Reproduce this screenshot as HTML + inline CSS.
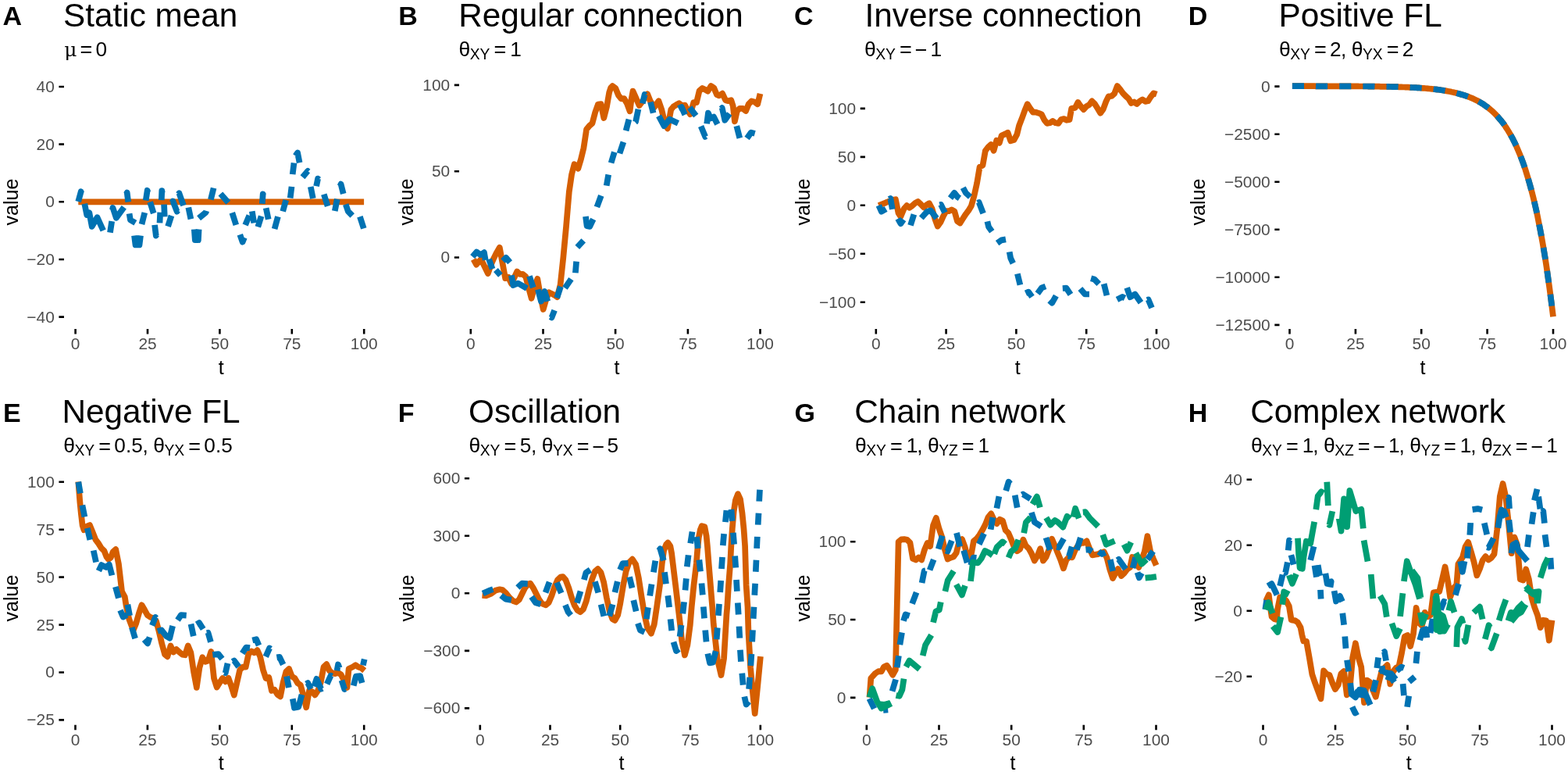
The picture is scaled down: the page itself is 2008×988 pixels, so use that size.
<!DOCTYPE html>
<html lang="en"><head><meta charset="utf-8"><title>Simulated network dynamics: panels A–H</title>
<style>
html,body{margin:0;padding:0;background:#fff;}
body{width:2008px;height:988px;overflow:hidden;}
svg{display:block;font-family:"Liberation Sans",sans-serif;}
.lab{font-weight:700;font-size:34px;fill:#000;}
.ttl{font-size:42.3px;fill:#000;}
.sub{font-size:26.2px;fill:#000;}
.sub .g{font-size:26.5px;}
.sub .u{font-family:"DejaVu Serif","Liberation Serif",serif;font-size:25px;}
.sub .s{font-size:19.3px;}
.sub .e{font-size:27px;}
.tk{font-size:20.9px;fill:#4d4d4d;}
.ax{font-size:25px;fill:#000;}
.ticks{stroke:#000;stroke-width:2.6;fill:none;}
.ln{fill:none;stroke-width:7.7;stroke-linejoin:round;stroke-linecap:butt;}
</style></head><body>
<svg width="2008" height="988" viewBox="0 0 2008 988" role="img" aria-label="Eight panels (A to H) of simulated time series for different network connection settings">
<rect width="2008" height="988" fill="#fff"/>
<g id="panel-A">
<path class="ln" stroke="#D55E00" d="M100.3 258.3 L466.1 258.3"/>
<path class="ln" stroke="#0072B2" d="M100.2 258.1 L103.7 245.3 L104.2 247 M108.3 260.7 L111.2 275 L114.4 272.4 L117.7 289.9 L124.5 278.2 L132.2 295 M141 297.6 L143.2 283.1 M143.9 268.5 L144.5 265.9 L148.8 278.9 L158.8 265.3 M161.7 248.4 L162.7 246.5 L164.2 258.5 M165.6 273.4 L166.9 281.5 L173.4 285.3 M172 301.5 L173.5 313.5 L178.5 313.5 L180 301.5 M181.5 287 L185.3 272.1 M186.7 256.7 L188.7 243.7 L189.3 246 M192.2 258.5 L196.7 273 M198.1 287.9 L199.8 301.6 L200.6 300.3 M204.5 285.4 L205.2 271.7 M206.8 256.1 L207.3 244 L207.8 247 M210.1 261.7 L210.8 277.3 M215.1 289.7 L219.5 276 M220.5 259.2 L221.4 257.4 L226.6 270.7 L227.5 269.2 M228.4 248.6 L229.4 247.2 L235 263 M241.3 265.5 L244.4 280.4 M248.8 293.5 L249.8 307.2 L253.9 307.2 L254.6 293.5 M254.6 279.2 L263.7 271.7 L264.3 269.8 M269.9 255.5 L273.6 240.6 M282.4 248 L292.3 259.2 M297.3 272.3 L302.3 287.9 M307.3 300.3 L310.6 309.7 L312.9 304 M314.1 287.9 L319.3 275.7 M322.8 270.4 L325.3 285.4 M330.3 290.4 L334.6 276.7 M335.8 260.8 L336.7 248.3 L337.2 249.8 M340.7 266.2 L343.7 280.8 M351.6 293 L355.9 277.2 M362.2 270.5 L366.2 255.9 M371.7 253.5 L373.5 238.9 M374.7 223.1 L376.5 208.5 M378.3 199.4 L381.1 195.5 L383.6 208.2 M387.5 226.8 L394.1 218.9 L394.7 219.5 M405.1 238.3 L407.1 228.6 L408.3 229.8 M397.8 238.9 L400.8 254.1 M414.8 248.6 L419.6 263.8 M428.8 269.9 L431.8 254.7 M435.4 238.1 L436.6 235.6 L439.7 248 M442.7 261.4 L445.8 270.5 L451.2 276 M460.9 277.2 L465.8 292.4"/>
<path class="ticks" d="M75.4 111 H82 M75.4 184.6 H82 M75.4 258.3 H82 M75.4 332 H82 M75.4 405.6 H82 M96.6 421 V427.5 M189 421 V427.5 M281.4 421 V427.5 M373.8 421 V427.5 M466.2 421 V427.5"/>
<text class="tk" text-anchor="end" x="69.8" y="117.9">40</text>
<text class="tk" text-anchor="end" x="69.8" y="191.5">20</text>
<text class="tk" text-anchor="end" x="69.8" y="265.2">0</text>
<text class="tk" text-anchor="end" x="69.8" y="338.9">−20</text>
<text class="tk" text-anchor="end" x="69.8" y="412.5">−40</text>
<text class="tk" text-anchor="middle" x="96.6" y="447.1">0</text>
<text class="tk" text-anchor="middle" x="189" y="447.1">25</text>
<text class="tk" text-anchor="middle" x="281.4" y="447.1">50</text>
<text class="tk" text-anchor="middle" x="373.8" y="447.1">75</text>
<text class="tk" text-anchor="middle" x="466.2" y="447.1">100</text>
<text class="ax" text-anchor="middle" x="283.2" y="478.6">t</text>
<text class="ax" text-anchor="middle" transform="translate(23.4 258.6) rotate(-90)">value</text>
<text class="lab" x="3.5" y="32.4">A</text>
<text class="ttl" x="81" y="34.2">Static mean</text>
<text class="sub"><tspan class="u" x="82.25" y="71.5">μ </tspan><tspan class="e" x="102.45" y="72.9">= </tspan><tspan x="122.55" y="71.5">0</tspan></text>
</g>
<g id="panel-B">
<path class="ln" stroke="#D55E00" d="M606.4 331.8 L610.1 338.6 L616 331.8 L624.9 350 L628.7 338.9 L632.4 330.4 L636.1 323.1 L639.8 316.8 L647.1 356.1 L650.9 354.6 L654.9 363.1 L662.2 347.5 L665.8 350.8 L669.5 350.8 L673.2 354 L676.9 368 L680.6 381.7 L684.3 368 L688.3 356.8 L691.9 377.7 L695.7 395.9 L699.2 383.8 L702.9 374.2 L706.5 375.9 L710.1 377.7 L713.5 380.1 L717.6 364.4 L721.3 329.9 L725.1 289.3 L728.8 245.6 L732.1 223.1 L735.5 210.1 L740.4 215.6 L744 203.7 L747.4 189.7 L751.1 165.4 L754.8 161 L758.5 157.8 L762.2 143.8 L765.9 133.5 L769.6 133.2 L773.3 151 L777 136.6 L780.2 118.2 L782.2 112.2 L784.4 110.1 L788.2 112.8 L791.9 121.8 L795.5 126.4 L799.3 126.2 L803 132.6 L806.6 142.3 L808.6 127 L810.5 116.6 L814.1 124.6 L818.6 135 L823 129.4 L829.2 120.4 L832.6 129 L837.8 137.4 L843.5 129.2 L847.4 140.6 L851.2 156.6 L854.9 164.4 L857.3 151 L859.3 140.2 L862.3 136.6 L866 134.2 L869.7 132.2 L873.4 135 L877.2 134.6 L880.8 141.8 L883.9 146.2 L888.3 131.2 L892 131.2 L895.6 116.2 L899.4 113 L903.1 114.8 L906.4 116.8 L910.5 110 L914.2 112.4 L918 121.2 L920.9 122.4 L925.1 119.6 L929.1 128.2 L932.7 129.2 L936.3 128.2 L938.7 135.6 L940.9 155.4 L943.9 142 L947.3 138.8 L951.3 138.9 L955.1 142 L958.7 133.2 L962.4 129.4 L966.2 130.4 L970.2 133.3 L973.5 119.8"/>
<path class="ln" stroke="#0072B2" d="M605.1 328.5 L610.3 322.5 L615.4 326.1 L620 323.1 L621.7 332.8 M626.1 331.8 L630.6 344.3 M634.9 345.5 L640.9 352.2 M644 334 L648 329.8 L653.1 335.8 M654.9 352.2 L657.3 365 L663.4 362.5 L674.9 369.2 M678 353.4 L682.8 368 M688.9 370.4 L692.9 385.6 L697.4 372.9 L701.4 385.6 M704.7 405.4 L706.5 406.4 L710.1 397.1 M713.2 381.4 L718 366.8 M723.5 368.6 L731.4 357.1 M736.9 349.2 L738.1 334.6 M739.3 316.4 L747.2 307.9 M750 277.1 L751.6 289.3 L755.3 289.9 L759.7 280.5 M764.4 265 L769.8 250.4 M776.7 237.7 L779.2 223.5 M782.6 208.5 L786.8 194.6 M793.5 196.4 L798.4 181.8 M801.6 167.2 L805.4 152.7 M813.4 156.4 L814.1 155.8 L817.4 139.8 M822.8 132.4 L825.6 121 L826.3 121.8 M833 130.6 L836.6 144.6 M843.6 148.4 L850.4 161.2 L857.6 152.8 L868.4 157.8 M868.9 138.9 L872.8 137 L877.2 146.8 M883.2 137.6 L891.3 148.2 M897.6 161.6 L903.2 174.9 L903.8 174.4 M905.2 158.4 L906.9 144.6 L910 151.6 L914 149.6 L918.8 158.9 M923.6 139.2 L924.7 138 L928.3 153.8 L934.2 145.6 M943.3 161.2 L947.3 176.8 M956.6 177 L961.9 169.6 L966.7 170.9"/>
<path class="ticks" d="M581.8 108.9 H588 M581.8 219.2 H588 M581.8 329.5 H588 M602.8 421 V427.5 M695.5 421 V427.5 M788.1 421 V427.5 M880.9 421 V427.5 M973.5 421 V427.5"/>
<text class="tk" text-anchor="end" x="576.2" y="115.8">100</text>
<text class="tk" text-anchor="end" x="576.2" y="226.1">50</text>
<text class="tk" text-anchor="end" x="576.2" y="336.4">0</text>
<text class="tk" text-anchor="middle" x="602.8" y="447.1">0</text>
<text class="tk" text-anchor="middle" x="695.5" y="447.1">25</text>
<text class="tk" text-anchor="middle" x="788.1" y="447.1">50</text>
<text class="tk" text-anchor="middle" x="880.9" y="447.1">75</text>
<text class="tk" text-anchor="middle" x="973.5" y="447.1">100</text>
<text class="ax" text-anchor="middle" x="790" y="478.6">t</text>
<text class="ax" text-anchor="middle" transform="translate(528.8 258.6) rotate(-90)">value</text>
<text class="lab" x="510.25" y="32.4">B</text>
<text class="ttl" x="587.25" y="34.2">Regular connection</text>
<text class="sub"><tspan class="g" x="587.5" y="71.5">θ</tspan><tspan class="s" x="601.75" y="75.8">XY </tspan><tspan class="e" x="632.55" y="72.9">= </tspan><tspan x="653.25" y="71.5">1</tspan></text>
</g>
<g id="panel-C">
<path class="ln" stroke="#D55E00" d="M1125.3 263 L1128.9 261.5 L1132.5 260.2 L1136.1 258.6 L1143.3 255.9 L1146.9 255.2 L1150.5 272.6 L1153.4 277.2 L1157.7 267 L1161.3 263.1 L1164.9 265.8 L1168.4 263.1 L1172 259.9 L1175.6 258 L1179.2 261.4 L1183 265.5 L1186.4 262.3 L1190 260.2 L1193.6 267 L1197.2 279.8 L1200.8 289.6 L1204.4 284.6 L1208 276.6 L1211.6 270.2 L1215.1 270.2 L1218.7 268.4 L1222.3 270.3 L1225.9 283 L1229.5 285.5 L1233.1 279.8 L1236.7 274.2 L1240.3 269.4 L1243.9 263.4 L1247.5 250.6 L1251.1 234.4 L1254.6 213.7 L1258.5 211.6 L1261.9 192.8 L1265.4 188.4 L1269 185 L1272.6 192.8 L1276.2 179.7 L1279.9 182.8 L1282.6 173.5 L1287 171.6 L1290.6 169.7 L1294.2 180.3 L1298.5 179.1 L1302.3 172.2 L1305 161 L1308.6 151.7 L1312.2 141.7 L1315.7 133.2 L1319.3 138.8 L1322.9 143.6 L1326.5 143.6 L1330.2 144.8 L1333.8 146.3 L1337.4 153.5 L1340.9 157.9 L1344.5 157.3 L1348.1 154.8 L1351.7 157.3 L1355.3 157.9 L1358.9 152.9 L1362.5 152 L1366 153.8 L1369.6 153.3 L1372.2 138.8 L1376.8 138 L1380.5 130.9 L1384.1 136.1 L1387.7 140.1 L1391.3 136.1 L1394.8 134.2 L1398.4 129.4 L1402 133 L1405.6 138.8 L1409.2 144.8 L1412.8 139.8 L1416.4 129.9 L1419.6 123.4 L1423.5 123 L1427.1 119.9 L1430.8 110 L1434.4 114.3 L1438 119.3 L1441.6 123 L1445.1 126.1 L1448.7 132.1 L1452.3 130.5 L1455.9 133 L1459.5 129.5 L1463.1 127.4 L1466.7 129.9 L1470.2 129.3 L1473.8 123.7 L1477.4 119.3 L1481.3 120.7"/>
<path class="ln" stroke="#0072B2" d="M1125.3 262.8 L1128.9 270.8 L1134.6 267.4 M1139 255 L1140.4 254 L1142.8 267.9 M1149.9 279.9 L1153.4 286.2 L1157.1 281 M1166 288.4 L1170.4 274.3 M1179.8 279 L1187 271 L1191.8 269.4 L1199.4 279.4 M1203.4 262.2 L1205 261.8 L1210 272.2 M1217 253.6 L1222.1 246.8 L1226.5 252.2 L1228.9 253.8 M1233.3 240.2 L1236.9 247 L1242.5 252 M1252.1 259.8 L1253.7 259 L1259.1 273.2 M1264.4 283.4 L1266 290.2 L1270.3 296.2 M1277.1 311.1 L1282.4 307.4 L1288 306.4 M1292.7 322.4 L1294.2 330.4 L1297.3 337 M1302.9 350.4 L1306.4 364.7 M1313.5 375.3 L1317.2 373.6 L1321.6 379.9 M1328.7 375.6 L1334 368.4 L1339 366.5 M1344 384.6 L1347.3 387.7 L1352.4 378.6 M1360.8 369 L1365.5 368.7 L1371 376.9 M1383.4 369.4 L1389.4 376.5 L1395 376.5 M1397.1 356.2 L1401.6 357.5 L1407.2 363.4 M1413.7 363.2 L1417.4 378.1 M1430.5 383.4 L1437.4 379.9 L1440.5 381.5 M1443.2 368.2 L1447.3 380.2 L1453.5 376.5 L1461 387.3 M1469.1 384 L1470.6 383.4 L1475 393.9"/>
<path class="ticks" d="M1101.7 138.9 H1107.9 M1101.7 200.9 H1107.9 M1101.7 262.8 H1107.9 M1101.7 324.8 H1107.9 M1101.7 386.7 H1107.9 M1121.8 421 V427.5 M1211.6 421 V427.5 M1301.4 421 V427.5 M1391.2 421 V427.5 M1481 421 V427.5"/>
<text class="tk" text-anchor="end" x="1096.1" y="145.8">100</text>
<text class="tk" text-anchor="end" x="1096.1" y="207.8">50</text>
<text class="tk" text-anchor="end" x="1096.1" y="269.7">0</text>
<text class="tk" text-anchor="end" x="1096.1" y="331.6">−50</text>
<text class="tk" text-anchor="end" x="1096.1" y="393.6">−100</text>
<text class="tk" text-anchor="middle" x="1121.8" y="447.1">0</text>
<text class="tk" text-anchor="middle" x="1211.6" y="447.1">25</text>
<text class="tk" text-anchor="middle" x="1301.4" y="447.1">50</text>
<text class="tk" text-anchor="middle" x="1391.2" y="447.1">75</text>
<text class="tk" text-anchor="middle" x="1481" y="447.1">100</text>
<text class="ax" text-anchor="middle" x="1303.2" y="478.6">t</text>
<text class="ax" text-anchor="middle" transform="translate(1037.4 258.6) rotate(-90)">value</text>
<text class="lab" x="1017" y="32.4">C</text>
<text class="ttl" x="1107.5" y="34.2">Inverse connection</text>
<text class="sub"><tspan class="g" x="1107" y="71.5">θ</tspan><tspan class="s" x="1121.25" y="75.8">XY </tspan><tspan class="e" x="1152.05" y="72.9">= </tspan><tspan class="e" x="1171.7" y="72.9">−</tspan><tspan x="1191.4" y="71.5">1</tspan></text>
</g>
<g id="panel-D">
<path class="ln" stroke="#D55E00" d="M1654.9 110.2 L1656.6 110.2 L1658.2 110.2 L1659.9 110.2 L1661.6 110.2 L1663.3 110.2 L1665 110.2 L1666.7 110.2 L1668.4 110.2 L1670.1 110.2 L1671.8 110.2 L1673.4 110.2 L1675.1 110.2 L1676.8 110.2 L1678.5 110.2 L1680.2 110.2 L1681.9 110.2 L1683.6 110.2 L1685.2 110.3 L1686.9 110.3 L1688.6 110.3 L1690.3 110.3 L1692 110.3 L1693.7 110.3 L1695.4 110.3 L1697.1 110.3 L1698.8 110.3 L1700.4 110.3 L1702.1 110.3 L1703.8 110.3 L1705.5 110.3 L1707.2 110.3 L1708.9 110.3 L1710.6 110.3 L1712.2 110.3 L1713.9 110.3 L1715.6 110.3 L1717.3 110.3 L1719 110.3 L1720.7 110.3 L1722.4 110.3 L1724.1 110.4 L1725.8 110.4 L1727.4 110.4 L1729.1 110.4 L1730.8 110.4 L1732.5 110.4 L1734.2 110.4 L1735.9 110.4 L1737.6 110.4 L1739.2 110.4 L1740.9 110.5 L1742.6 110.5 L1744.3 110.5 L1746 110.5 L1747.7 110.5 L1749.4 110.5 L1751.1 110.5 L1752.8 110.6 L1754.4 110.6 L1756.1 110.6 L1757.8 110.6 L1759.5 110.6 L1761.2 110.7 L1762.9 110.7 L1764.6 110.7 L1766.2 110.7 L1767.9 110.8 L1769.6 110.8 L1771.3 110.8 L1773 110.8 L1774.7 110.9 L1776.4 110.9 L1778.1 110.9 L1779.8 111 L1781.4 111 L1783.1 111.1 L1784.8 111.1 L1786.5 111.1 L1788.2 111.2 L1789.9 111.2 L1791.6 111.3 L1793.2 111.3 L1794.9 111.4 L1796.6 111.5 L1798.3 111.5 L1800 111.6 L1801.7 111.6 L1803.4 111.7 L1805.1 111.8 L1806.8 111.9 L1808.4 112 L1810.1 112 L1811.8 112.1 L1813.5 112.2 L1815.2 112.3 L1816.9 112.4 L1818.6 112.5 L1820.2 112.7 L1821.9 112.8 L1823.6 112.9 L1825.3 113 L1827 113.2 L1828.7 113.3 L1830.4 113.5 L1832.1 113.7 L1833.8 113.8 L1835.4 114 L1837.1 114.2 L1838.8 114.4 L1840.5 114.6 L1842.2 114.8 L1843.9 115 L1845.6 115.3 L1847.2 115.5 L1848.9 115.8 L1850.6 116.1 L1852.3 116.4 L1854 116.7 L1855.7 117 L1857.4 117.3 L1859.1 117.7 L1860.8 118 L1862.4 118.4 L1864.1 118.8 L1865.8 119.3 L1867.5 119.7 L1869.2 120.2 L1870.9 120.7 L1872.6 121.2 L1874.2 121.7 L1875.9 122.2 L1877.6 122.8 L1879.3 123.4 L1881 124 L1882.7 124.7 L1884.4 125.4 L1886.1 126.1 L1887.8 126.9 L1889.4 127.7 L1891.1 128.5 L1892.8 129.4 L1894.5 130.4 L1896.2 131.3 L1897.9 132.4 L1899.6 133.4 L1901.2 134.6 L1902.9 135.8 L1904.6 137 L1906.3 138.3 L1908 139.7 L1909.7 141.1 L1911.4 142.6 L1913.1 144.2 L1914.8 145.9 L1916.4 147.6 L1918.1 149.4 L1919.8 151.4 L1921.5 153.4 L1923.2 155.5 L1924.9 157.7 L1926.6 160 L1928.2 162.5 L1929.9 165 L1931.6 167.7 L1933.3 170.6 L1935 173.5 L1936.7 176.6 L1938.4 179.9 L1940.1 183.3 L1941.8 186.9 L1943.4 190.7 L1945.1 194.7 L1946.8 198.8 L1948.5 203.2 L1950.2 207.7 L1951.9 212.5 L1953.6 217.6 L1955.2 222.9 L1956.9 228.4 L1958.6 234.3 L1960.3 240.4 L1962 246.8 L1963.7 253.5 L1965.4 260.6 L1967.1 268 L1968.8 275.8 L1970.4 283.9 L1972.1 292.5 L1973.8 301.5 L1975.5 310.9 L1977.2 320.8 L1978.9 331.2 L1980.6 342.1 L1982.2 353.6 L1983.9 365.6 L1985.6 378.2 L1987.3 391.4 L1989 405.3"/>
<path class="ln" stroke="#0072B2" stroke-dasharray="15.08 15.08" d="M1654.9 110.2 L1656.6 110.2 L1658.2 110.2 L1659.9 110.2 L1661.6 110.2 L1663.3 110.2 L1665 110.2 L1666.7 110.2 L1668.4 110.2 L1670.1 110.2 L1671.8 110.2 L1673.4 110.2 L1675.1 110.2 L1676.8 110.2 L1678.5 110.2 L1680.2 110.2 L1681.9 110.2 L1683.6 110.2 L1685.2 110.3 L1686.9 110.3 L1688.6 110.3 L1690.3 110.3 L1692 110.3 L1693.7 110.3 L1695.4 110.3 L1697.1 110.3 L1698.8 110.3 L1700.4 110.3 L1702.1 110.3 L1703.8 110.3 L1705.5 110.3 L1707.2 110.3 L1708.9 110.3 L1710.6 110.3 L1712.2 110.3 L1713.9 110.3 L1715.6 110.3 L1717.3 110.3 L1719 110.3 L1720.7 110.3 L1722.4 110.3 L1724.1 110.4 L1725.8 110.4 L1727.4 110.4 L1729.1 110.4 L1730.8 110.4 L1732.5 110.4 L1734.2 110.4 L1735.9 110.4 L1737.6 110.4 L1739.2 110.4 L1740.9 110.5 L1742.6 110.5 L1744.3 110.5 L1746 110.5 L1747.7 110.5 L1749.4 110.5 L1751.1 110.5 L1752.8 110.6 L1754.4 110.6 L1756.1 110.6 L1757.8 110.6 L1759.5 110.6 L1761.2 110.7 L1762.9 110.7 L1764.6 110.7 L1766.2 110.7 L1767.9 110.8 L1769.6 110.8 L1771.3 110.8 L1773 110.8 L1774.7 110.9 L1776.4 110.9 L1778.1 110.9 L1779.8 111 L1781.4 111 L1783.1 111.1 L1784.8 111.1 L1786.5 111.1 L1788.2 111.2 L1789.9 111.2 L1791.6 111.3 L1793.2 111.3 L1794.9 111.4 L1796.6 111.5 L1798.3 111.5 L1800 111.6 L1801.7 111.6 L1803.4 111.7 L1805.1 111.8 L1806.8 111.9 L1808.4 112 L1810.1 112 L1811.8 112.1 L1813.5 112.2 L1815.2 112.3 L1816.9 112.4 L1818.6 112.5 L1820.2 112.7 L1821.9 112.8 L1823.6 112.9 L1825.3 113 L1827 113.2 L1828.7 113.3 L1830.4 113.5 L1832.1 113.7 L1833.8 113.8 L1835.4 114 L1837.1 114.2 L1838.8 114.4 L1840.5 114.6 L1842.2 114.8 L1843.9 115 L1845.6 115.3 L1847.2 115.5 L1848.9 115.8 L1850.6 116.1 L1852.3 116.4 L1854 116.7 L1855.7 117 L1857.4 117.3 L1859.1 117.7 L1860.8 118 L1862.4 118.4 L1864.1 118.8 L1865.8 119.3 L1867.5 119.7 L1869.2 120.2 L1870.9 120.7 L1872.6 121.2 L1874.2 121.7 L1875.9 122.2 L1877.6 122.8 L1879.3 123.4 L1881 124 L1882.7 124.7 L1884.4 125.4 L1886.1 126.1 L1887.8 126.9 L1889.4 127.7 L1891.1 128.5 L1892.8 129.4 L1894.5 130.4 L1896.2 131.3 L1897.9 132.4 L1899.6 133.4 L1901.2 134.6 L1902.9 135.8 L1904.6 137 L1906.3 138.3 L1908 139.7 L1909.7 141.1 L1911.4 142.6 L1913.1 144.2 L1914.8 145.9 L1916.4 147.6 L1918.1 149.4 L1919.8 151.4 L1921.5 153.4 L1923.2 155.5 L1924.9 157.7 L1926.6 160 L1928.2 162.5 L1929.9 165 L1931.6 167.7 L1933.3 170.6 L1935 173.5 L1936.7 176.6 L1938.4 179.9 L1940.1 183.3 L1941.8 186.9 L1943.4 190.7 L1945.1 194.7 L1946.8 198.8 L1948.5 203.2 L1950.2 207.7 L1951.9 212.5 L1953.6 217.6 L1955.2 222.9 L1956.9 228.4 L1958.6 234.3 L1960.3 240.4 L1962 246.8 L1963.7 253.5 L1965.4 260.6 L1967.1 268 L1968.8 275.8 L1970.4 283.9 L1972.1 292.5 L1973.8 301.5 L1975.5 310.9 L1977.2 320.8 L1978.9 331.2 L1980.6 342.1 L1982.2 353.6 L1983.9 365.6 L1985.6 378.2 L1987.3 391.4 L1989 405.3"/>
<path class="ticks" d="M1632.3 110.6 H1638.5 M1632.3 171.7 H1638.5 M1632.3 232.7 H1638.5 M1632.3 293.8 H1638.5 M1632.3 354.8 H1638.5 M1632.3 415.9 H1638.5 M1651.5 421 V427.5 M1735.9 421 V427.5 M1820.2 421 V427.5 M1904.6 421 V427.5 M1989 421 V427.5"/>
<text class="tk" text-anchor="end" x="1626.7" y="117.5">0</text>
<text class="tk" text-anchor="end" x="1626.7" y="178.6">−2500</text>
<text class="tk" text-anchor="end" x="1626.7" y="239.6">−5000</text>
<text class="tk" text-anchor="end" x="1626.7" y="300.7">−7500</text>
<text class="tk" text-anchor="end" x="1626.7" y="361.7">−10000</text>
<text class="tk" text-anchor="end" x="1626.7" y="422.8">−12500</text>
<text class="tk" text-anchor="middle" x="1651.5" y="447.1">0</text>
<text class="tk" text-anchor="middle" x="1735.9" y="447.1">25</text>
<text class="tk" text-anchor="middle" x="1820.2" y="447.1">50</text>
<text class="tk" text-anchor="middle" x="1904.6" y="447.1">75</text>
<text class="tk" text-anchor="middle" x="1989" y="447.1">100</text>
<text class="ax" text-anchor="middle" x="1821.9" y="478.6">t</text>
<text class="ax" text-anchor="middle" transform="translate(1543.2 258.6) rotate(-90)">value</text>
<text class="lab" x="1521.75" y="32.4">D</text>
<text class="ttl" x="1637.5" y="34.2">Positive FL</text>
<text class="sub"><tspan class="g" x="1638" y="71.5">θ</tspan><tspan class="s" x="1652.25" y="75.8">XY </tspan><tspan class="e" x="1683.05" y="72.9">= </tspan><tspan x="1702.9" y="71.5">2</tspan><tspan x="1716.95" y="71.5">, </tspan><tspan class="g" x="1730.75" y="71.5">θ</tspan><tspan class="s" x="1745" y="75.8">YX </tspan><tspan class="e" x="1775.8" y="72.9">= </tspan><tspan x="1795.65" y="71.5">2</tspan></text>
</g>
<g id="panel-E">
<path class="ln" stroke="#D55E00" d="M100.3 616.5 L102.3 642 L103.9 657.8 L105.6 672.4 L107.5 678.2 L111.4 673.6 L115 672.1 L118.1 679.6 L122.4 690.6 L126 695.4 L129.8 701.5 L133.5 705.1 L136.3 712.4 L138.8 715.8 L141.8 713.6 L144.6 706.4 L148.2 703.1 L152 722.1 L154.4 742.5 L156.1 757.1 L159.8 763.8 L161.6 775.3 L165.3 792.3 L170.7 806.6 L174.1 798.4 L177.9 785 L181.5 774.3 L185.3 780.8 L188.9 787.4 L192.6 789.9 L196.3 791.1 L200 794.7 L203.7 808.5 L207.4 824.3 L211.1 837.6 L214.4 840.3 L218.5 826.5 L222.2 834.6 L225.9 831 L229.6 834.6 L233.3 837.6 L237 838.3 L240.8 826.5 L244.4 835.2 L248 859.5 L251.8 879.9 L255.4 854.6 L259.2 841.3 L262.9 846.8 L266.6 845.5 L270.3 834 L274 868 L277.7 879.5 L281.4 873.5 L285.1 868 L288.7 872.3 L292.5 867.8 L296.1 877.7 L299.8 889.6 L303.6 873 L307.2 857.2 L311 853.6 L314.7 853.6 L318.3 836.8 L322.1 833.5 L325.7 835.4 L329.5 832.2 L333.1 840.2 L336.9 857.2 L340.5 868.1 L344.3 866.9 L347.9 883.9 L351.6 882.7 L355.3 888.8 L359 891.5 L362.7 873 L366.4 859.6 L370.1 856 L373.8 865.7 L377.6 868.1 L381.2 874.2 L384.8 876.6 L388.6 890 L392.2 905.3 L396 883.9 L399.7 885.1 L403.4 889.4 L407.1 883.9 L410.8 873 L414.5 853.6 L418.2 850.2 L421.9 858.4 L425.6 861.5 L429.3 862.1 L433 860.9 L436.7 863.3 L440.5 870.6 L444.5 880 L446.6 856 L451.5 853.6 L455.3 851.1 L458.9 853.6 L462.6 854.8 L466.7 858.2"/>
<path class="ln" stroke="#0072B2" d="M100.3 616.7 L102.9 631.3 M105.4 646.6 L108.4 661.4 M111.8 675.8 L115.3 690.8 M119.7 704.5 L123 719.5 M126.4 730.6 L130 723.1 L136.1 726.1 L139.8 722.5 L143.4 736.4 M147.9 751 L151.9 765.6 M154 781.1 L157.6 789.6 L162.5 786.8 M163.4 773.7 L166.1 788 M168.9 803 L173.1 817.2 M194.8 800.5 L199 789.9 L200.1 791.1 M227.5 793.7 L231.8 787.2 L238.7 787.7 M244.5 798.6 L247.8 814.1 M251.8 799 L255.1 797.1 L260.2 805 M184.7 818.5 L189.1 823.3 L191.6 815.5 M201.9 807.9 L206.8 806.3 L213.2 814.3 L217.3 816.8 L221.1 801 M264.7 810 L266.5 809.7 L269.9 821.6 M272.3 837.9 L279.6 837 L284.5 843.1 M287.3 860.7 L288.7 861.3 L291.5 848.9 M297.8 846.8 L299.9 845.5 L305.7 853.4 M310.3 836.1 L315.2 828.5 L320 829.1 M323.3 819.4 L328.2 818.2 L331.5 826.1 M340.3 840.3 L345.2 829.4 L346.4 830.4 M354.4 841.4 L358 840.8 L362.6 850.5 M367.1 865.5 L369.9 880 M374.8 894.3 L376.9 905.8 L382.3 904.8 L386.5 889 M392.2 875.2 L394.2 874 L398.1 881.7 M402.3 878.5 L405.4 868.8 L411.2 881.7 L412.9 880.9 M418.7 875.4 L423.6 864.7 L425 865.5 M431.5 858.4 L433 850.5 L434.7 854.8 M437.5 870.6 L441.2 882.1 L442.4 881.5 M452.7 877.5 L455.8 865.7 L461.2 865.1 L463.6 874 M464.9 851.4 L466.7 843.6"/>
<path class="ticks" d="M75.4 616.8 H82 M75.4 677.7 H82 M75.4 738.6 H82 M75.4 799.6 H82 M75.4 860.5 H82 M75.4 921.4 H82 M96.5 927.8 V934.3 M188.9 927.8 V934.3 M281.4 927.8 V934.3 M373.8 927.8 V934.3 M466.2 927.8 V934.3"/>
<text class="tk" text-anchor="end" x="69.8" y="623.7">100</text>
<text class="tk" text-anchor="end" x="69.8" y="684.6">75</text>
<text class="tk" text-anchor="end" x="69.8" y="745.5">50</text>
<text class="tk" text-anchor="end" x="69.8" y="806.5">25</text>
<text class="tk" text-anchor="end" x="69.8" y="867.4">0</text>
<text class="tk" text-anchor="end" x="69.8" y="928.3">−25</text>
<text class="tk" text-anchor="middle" x="96.5" y="953.9">0</text>
<text class="tk" text-anchor="middle" x="188.9" y="953.9">25</text>
<text class="tk" text-anchor="middle" x="281.4" y="953.9">50</text>
<text class="tk" text-anchor="middle" x="373.8" y="953.9">75</text>
<text class="tk" text-anchor="middle" x="466.2" y="953.9">100</text>
<text class="ax" text-anchor="middle" x="283.2" y="985.4">t</text>
<text class="ax" text-anchor="middle" transform="translate(23.4 765.5) rotate(-90)">value</text>
<text class="lab" x="4" y="540.4">E</text>
<text class="ttl" x="79.5" y="541">Negative FL</text>
<text class="sub"><tspan class="g" x="81.2" y="579.1">θ</tspan><tspan class="s" x="95.45" y="583.4">XY </tspan><tspan class="e" x="126.25" y="580.5">= </tspan><tspan x="146.35" y="579.1">0.5</tspan><tspan x="182.4" y="579.1">, </tspan><tspan class="g" x="196.2" y="579.1">θ</tspan><tspan class="s" x="210.45" y="583.4">YX </tspan><tspan class="e" x="241.25" y="580.5">= </tspan><tspan x="261.35" y="579.1">0.5</tspan></text>
</g>
<g id="panel-F">
<path class="ln" stroke="#D55E00" d="M617.5 761.9 L622.5 762.3 L628.7 760 L634.9 755.4 L639.9 754.3 L643.6 755 L647.4 758.5 L652.3 764.7 L657.3 769.1 L661 770.5 L664.8 767.5 L668.5 760 L672.3 752.3 L676 747.9 L679.1 746.6 L682.8 752.3 L686.6 759.8 L690.3 767.2 L694 772.5 L699 774.3 L702.8 771 L706.5 762.3 L710.2 751 L714 742.3 L717.7 738.6 L720.8 738 L724.5 742.3 L728.3 752.3 L732 764.7 L735.7 774.7 L739.5 780.9 L743.2 783.2 L747 779.7 L750.7 769.7 L754.4 754.8 L758.2 741.1 L761.9 731.4 L765.6 728 L769.4 732.4 L773.1 744.8 L776.8 764.7 L780.6 782.2 L784.3 792.1 L787.4 794 L791.2 787.2 L794.3 772.2 L798 749.8 L801.7 731.1 L805.5 719.9 L809.8 715.6 L814.2 722.4 L817.9 739.8 L821.7 764.7 L825.4 787.2 L829.1 803.3 L833.9 810.7 L837.8 799 L841.1 776.7 L845 748.9 L847.8 721.1 L850.1 704.6 L853.2 696.6 L855.3 694.5 L858.4 699 L860.1 708 L861.7 721.1 L865.1 748.9 L868.4 776.7 L871 799 L873.2 820 L876.9 838.4 L880.4 825.4 L883.8 799.8 L885.7 776.7 L888.5 748.9 L891.8 721.1 L893.1 704.6 L894.8 687.9 L896.8 677.9 L898.8 673.1 L902.4 674.2 L904.6 685.7 L905.9 699 L907.6 721.1 L909.9 748.9 L912.2 776.7 L913.8 799 L915.7 815.9 L918.7 843.4 L923.5 864.1 L927.1 842.6 L930.4 787 L931.3 776.7 L933 748.9 L935.2 721.1 L936.3 699 L937.8 676.8 L939.7 654.5 L941.9 640.1 L945 632.2 L948 638.9 L950.5 656.7 L952.5 676.8 L954.1 699 L955.6 748.9 L957.5 776.7 L958.5 810 L961.1 854.5 L963.6 882.4 L966.7 913.1 L970.2 878.3 L973.9 840.1"/>
<path class="ln" stroke="#0072B2" d="M618.3 759.5 L626.2 755.9 L631.4 754.2 M641.7 762 L647.4 766.6 L654.8 767.9 M662.9 752 L668.5 746.7 L675.7 747.1 M680.7 763.7 L685.9 771.2 L692.4 773.2 M698.6 758.3 L703.6 744.8 M713 745.6 L718.8 759.1 M723.9 774.3 L727.7 783.4 L731 787.4 M738.9 771.6 L743.5 756.6 M747.9 742.1 L750.4 733 L755.9 729.3 M761.9 744.4 L766.2 758.5 M769.6 773.5 L773.3 788.6 M780.3 788.4 L784.6 773.5 M787.4 758.1 L790.8 744.2 M794 729.3 L797.4 721.2 L804.5 720.9 M806.1 738.3 L809.5 752.5 M811.3 768.2 L814.6 782.4 M816.9 797.7 L819.8 806.4 L825.4 808.9 M843.9 704.6 L845.4 702.2 L849.8 717.4 M886.5 680.5 L884.2 695.3 M892.1 687 L893.7 701.9 M930.4 653.2 L928.9 668.1 M936.5 651.9 L937.7 666.9 M927.1 683.2 L925.8 698.2 M938.9 681.7 L940.1 696.6 M973 626.7 L972.2 641.6 M971.5 656.7 L970.7 671.6 M969.8 686.9 L969.1 701.9 M839.3 717.6 L836.9 732.4 M834.5 747.7 L832.2 762.5 M830 777.4 L827.8 792.3 M851 732.3 L853 747.2 M855.3 762.2 L857.1 777.1 M858.6 792.3 L860.2 807.2 M872.5 800 L870.6 814.8 M876.1 770.4 L874.4 785.4 M878.8 740.4 L877.5 755.3 M881.6 710.4 L879.8 725.3 M895.4 716.5 L897 731.4 M898.5 746.5 L899.8 761.4 M900.8 776.5 L902 791.4 M903.2 806.5 L904.5 821.4 M918.8 803.4 L917.7 818.3 M921 772.9 L919.9 787.9 M923.2 743.1 L922.2 758.1 M925 713 L924 728 M941.2 711.5 L942.2 726.5 M943 741.9 L943.9 756.8 M944.8 771.6 L945.7 786.6 M946.5 801.6 L947.3 816.6 M964 806.4 L963.2 821.4 M965.5 776.7 L964.7 791.7 M967.1 746.8 L966.3 761.8 M968.5 716.8 L967.8 731.7 M862.5 821.7 L866 833 L869.5 830.6 M906.3 836.5 L909 848.4 L912.9 847.8 L916.6 833.2 M947.9 831.8 L948.9 846.8 M962.4 837 L961.4 852 M950.3 861.6 L951.6 876.6 M960.2 866.9 L959.1 881.9 M953.3 891.5 L955.6 901.5 L959.1 897.9"/>
<path class="ticks" d="M594.9 612.2 H601.1 M594.9 685.7 H601.1 M594.9 759.3 H601.1 M594.9 832.9 H601.1 M594.9 906.4 H601.1 M614.8 927.8 V934.3 M704.5 927.8 V934.3 M794.2 927.8 V934.3 M884 927.8 V934.3 M973.8 927.8 V934.3"/>
<text class="tk" text-anchor="end" x="589.3" y="619.1">600</text>
<text class="tk" text-anchor="end" x="589.3" y="692.6">300</text>
<text class="tk" text-anchor="end" x="589.3" y="766.2">0</text>
<text class="tk" text-anchor="end" x="589.3" y="839.8">−300</text>
<text class="tk" text-anchor="end" x="589.3" y="913.3">−600</text>
<text class="tk" text-anchor="middle" x="614.8" y="953.9">0</text>
<text class="tk" text-anchor="middle" x="704.5" y="953.9">25</text>
<text class="tk" text-anchor="middle" x="794.2" y="953.9">50</text>
<text class="tk" text-anchor="middle" x="884" y="953.9">75</text>
<text class="tk" text-anchor="middle" x="973.8" y="953.9">100</text>
<text class="ax" text-anchor="middle" x="796" y="985.4">t</text>
<text class="ax" text-anchor="middle" transform="translate(529.5 765.5) rotate(-90)">value</text>
<text class="lab" x="509.75" y="540.4">F</text>
<text class="ttl" x="600" y="541">Oscillation</text>
<text class="sub"><tspan class="g" x="600.5" y="579.1">θ</tspan><tspan class="s" x="614.75" y="583.4">XY </tspan><tspan class="e" x="645.55" y="580.5">= </tspan><tspan x="665.65" y="579.1">5</tspan><tspan x="679.95" y="579.1">, </tspan><tspan class="g" x="693.75" y="579.1">θ</tspan><tspan class="s" x="708" y="583.4">YX </tspan><tspan class="e" x="738.8" y="580.5">= </tspan><tspan class="e" x="758.45" y="580.5">−</tspan><tspan x="777.55" y="579.1">5</tspan></text>
</g>
<g id="panel-G">
<path class="ln" stroke="#D55E00" d="M1113.5 892.5 L1115.3 868 L1120.8 861.9 L1125 859.1 L1128.7 859.5 L1132 853.4 L1135.7 851.6 L1139.4 857.1 L1143.3 863.8 L1146.9 857.1 L1150.6 693.4 L1154.2 690.4 L1158 690.1 L1161.6 690.7 L1165.4 694.4 L1169 715 L1172.8 716.5 L1176.4 713.5 L1180.2 716.5 L1183.8 704.1 L1187.6 695 L1191.2 699.2 L1195 672.5 L1198.8 662.8 L1202.4 676.1 L1206.2 687.1 L1209.8 702.9 L1213.6 715.6 L1217.2 713.8 L1221 712.6 L1224.6 707.7 L1228.4 693.1 L1232 690.1 L1235.8 700.4 L1239.5 715 L1243.2 712.6 L1246.9 692.5 L1250.6 689.5 L1254.4 684.6 L1258 678.6 L1261.8 671.3 L1265.4 662.2 L1269.2 657.3 L1272.8 665.2 L1276.6 670.1 L1280.3 664.6 L1284 666.4 L1287.7 678.6 L1291.4 682.2 L1295.1 690.7 L1298.8 700.4 L1302.6 705.3 L1306.2 702.9 L1310.3 690.6 L1313.6 698.2 L1317.4 701.9 L1321.1 708.5 L1324.8 717.6 L1328.5 711.6 L1332.2 702.2 L1335.9 717.6 L1339.6 712.8 L1343.4 703.1 L1347.1 689.7 L1350.8 698.2 L1354.4 707.3 L1358.2 716.4 L1361.9 727.4 L1365.6 716.4 L1369.3 712.8 L1373 713.4 L1376.7 704.3 L1380.4 698.2 L1384.2 694.6 L1387.8 694.8 L1391.6 692.4 L1395.2 701.9 L1399 710.4 L1402.6 709.8 L1406.4 709.1 L1410 707.3 L1413.8 706.1 L1417.5 714 L1421.2 728.6 L1425 740.1 L1428.6 733.4 L1431.8 728 L1436 737.1 L1439.8 733.4 L1443.4 728.6 L1447.2 726.1 L1450 713 L1454.6 720.1 L1458.3 726.1 L1462 716.4 L1465.8 705.7 L1469.4 686.1 L1473.2 705.7 L1476.8 714.7 L1480.7 723.5"/>
<path class="ln" stroke="#0072B2" d="M1113.3 894.1 L1119.6 906.9 M1131.1 908.9 L1137.2 908.4 M1142.6 884.6 L1147.1 869.5 M1148.7 854.3 L1150.9 839.2 M1152.4 825.1 L1155 809.5 M1157 794.7 L1159.6 786.5 L1164.7 788.1 M1168.1 772.6 L1173.6 758.2 M1180.6 746.1 L1183.7 730.5 L1185.2 730.2 M1190.6 729.5 L1195.7 716.1 M1201.7 702.6 L1206.8 685.6 M1211.3 704.6 L1213.5 705.5 L1218.8 691.9 M1225 682 L1229.3 699.5 M1234.1 704.4 L1238.6 720.1 M1243 723.5 L1246.6 713.5 L1250.5 713.8 M1253.8 696.5 L1260.2 682.8 M1268.7 677.6 L1271.4 662.2 M1276.4 650.4 L1279.4 635.2 M1288.2 628.1 L1291.6 616.6 L1293.8 619.2 M1299.7 633.7 L1302.7 649.7 M1308.8 633.2 L1310 632.5 L1319.6 638.5 M1320.9 655.9 L1324.9 668.3 L1333.4 673.8 M1339.5 688.1 L1344.6 703.7 M1353.2 699.9 L1355.9 700.5 L1362.3 689.3 M1367.2 711.8 L1369 711.8 L1372.6 699.6 M1378.9 703.7 L1383.8 688.1 M1390.5 703.7 L1394.7 703.3 L1398.4 705.9 M1406.9 705.9 L1411.1 709 L1415.6 706.9 M1421.8 716.1 L1425.1 730.9 M1430.9 717 L1432.6 715.8 L1441.5 728.3 M1450.6 726.9 L1454.2 713.3 M1456.6 732.5 L1458.8 739.3 L1462.1 733.4 M1469.4 715.9 L1476.7 705.6"/>
<path class="ln" stroke="#009E73" d="M1113.3 892.5 L1117.1 881.1 L1123.2 897.8 L1128.7 906.6 L1141.4 900.2 M1125.4 901 L1132.9 901.8 L1140.2 899.8 M1147.5 889.9 L1151.8 890.8 L1155.4 882.6 L1157.5 868.6 M1160.3 853.4 L1164.5 845.5 L1177.6 856.5 M1181.7 839.1 L1185.1 825.5 L1192.7 812.8 M1195.1 796.6 L1198.5 782.5 L1202.8 780.5 L1204.8 770.4 M1210.4 756.8 L1213.7 742.8 L1221.3 730.7 M1224.6 748 L1231.9 761.4 L1235.9 749.5 M1243 743.9 L1245.9 719.6 L1252.3 720.5 L1256.6 715 L1261.4 705 L1266.9 707.7 L1271.1 710.8 M1273.3 708.9 L1276.6 700.4 L1283.9 693.4 L1287.5 696.2 M1291.5 713.8 L1294.8 705.9 L1300.3 701.6 L1304.2 690.7 M1311.2 682.2 L1313.9 668.3 L1319.7 662.2 M1322.2 645.2 L1327.9 635.5 L1331.9 649.5 M1339.8 662.5 L1345.2 671.7 L1351 665.9 L1354.6 668.3 L1361.3 674.6 L1366.5 660.8 L1370.4 664 M1374.3 661.6 L1377.1 650.7 L1381.6 663.4 M1386.8 655.5 L1389.9 655.2 L1395.9 663.4 L1406.3 673.8 M1412.3 684.3 L1416.6 696.8 L1427.5 692.3 M1439.4 696.8 L1443.5 704.7 L1448.4 693.8 M1454.5 707.8 L1462.1 721.7 L1468.2 715.9 M1466.6 739.7 L1474.9 738.9 L1480.9 738"/>
<path class="ticks" d="M1089 693.2 H1095.5 M1089 793 H1095.5 M1089 892.9 H1095.5 M1109.8 927.8 V934.3 M1202.5 927.8 V934.3 M1295.2 927.8 V934.3 M1387.8 927.8 V934.3 M1480.5 927.8 V934.3"/>
<text class="tk" text-anchor="end" x="1083.4" y="700.1">100</text>
<text class="tk" text-anchor="end" x="1083.4" y="799.9">50</text>
<text class="tk" text-anchor="end" x="1083.4" y="899.8">0</text>
<text class="tk" text-anchor="middle" x="1109.8" y="953.9">0</text>
<text class="tk" text-anchor="middle" x="1202.5" y="953.9">25</text>
<text class="tk" text-anchor="middle" x="1295.2" y="953.9">50</text>
<text class="tk" text-anchor="middle" x="1387.8" y="953.9">75</text>
<text class="tk" text-anchor="middle" x="1480.5" y="953.9">100</text>
<text class="ax" text-anchor="middle" x="1297" y="985.4">t</text>
<text class="ax" text-anchor="middle" transform="translate(1037.4 765.5) rotate(-90)">value</text>
<text class="lab" x="1017.5" y="540.4">G</text>
<text class="ttl" x="1094.25" y="541">Chain network</text>
<text class="sub"><tspan class="g" x="1095" y="579.1">θ</tspan><tspan class="s" x="1109.25" y="583.4">XY </tspan><tspan class="e" x="1140.05" y="580.5">= </tspan><tspan x="1160.75" y="579.1">1</tspan><tspan x="1174.15" y="579.1">, </tspan><tspan class="g" x="1187.95" y="579.1">θ</tspan><tspan class="s" x="1202.2" y="583.4">YZ </tspan><tspan class="e" x="1231.75" y="580.5">= </tspan><tspan x="1252.45" y="579.1">1</tspan></text>
</g>
<g id="panel-H">
<path class="ln" stroke="#D55E00" d="M1621.2 769.2 L1624.8 761.3 L1627 778.9 L1628.6 789.3 L1632.2 792.3 L1634.9 792.9 L1636 780.1 L1639.1 764.4 L1643.4 765 L1647 768.6 L1650.8 775.9 L1653.7 793.5 L1658.2 794.1 L1661.9 796.5 L1665.6 803.2 L1667.3 812.3 L1669.3 820.5 L1673 820.8 L1676.7 841.4 L1680.4 863.3 L1684.1 874.2 L1687.7 883.9 L1691.5 894.3 L1695.1 858.4 L1698.9 862.7 L1702.5 863.9 L1706.3 874.2 L1709.9 882.1 L1713.7 876.6 L1717.4 862.1 L1721.1 859 L1724.8 889.4 L1728.5 882.7 L1732.2 841.4 L1735.9 823.2 L1739.6 841.4 L1743.2 853.6 L1747 899.1 L1750.6 870.6 L1754.4 873 L1758 882.7 L1761.8 891.8 L1765.4 875.4 L1769.2 859.6 L1772.8 854.8 L1776.6 851.1 L1780.3 875.4 L1784 859.6 L1787.7 854.8 L1791.4 853 L1795.1 835.4 L1798.8 814.7 L1802.5 812.9 L1806.2 827.1 L1810 811.3 L1813.6 777.9 L1817.2 797.2 L1821 800.8 L1824.7 783.8 L1828.4 789.3 L1832.1 786.9 L1835.8 758.3 L1839.5 757.7 L1843.2 757.1 L1846.9 741.3 L1850.6 725.5 L1854.3 744.9 L1857.1 764.4 L1861.7 752.2 L1865.3 748.6 L1867.4 721.9 L1872.9 713.4 L1876.5 699.8 L1880.1 693.7 L1883.8 705.8 L1887.6 719.4 L1891.3 736.4 L1895 727.9 L1898.7 717 L1902.4 712.1 L1906.1 716.4 L1909.8 714 L1913.5 709.1 L1917.2 677.9 L1920.8 635.4 L1924.6 619 L1928.2 635.4 L1932 670.6 L1935.6 708.2 L1939.4 687.6 L1943 697.3 L1946.8 741.3 L1950.5 742.5 L1954.2 728.5 L1957.9 741.3 L1961.6 765.6 L1965.3 777.7 L1969 787.4 L1972.7 803.2 L1976.4 793.7 L1980.1 794.2 L1983.8 819.6 L1987.5 793.7"/>
<path class="ln" stroke="#0072B2" d="M1620.3 780.1 L1622.1 768 M1623.6 750 L1628.5 747.1 L1635.3 761.3 M1639.1 750 L1642.5 735.5 M1644.6 732.2 L1646.2 732.8 L1648.9 719.4 M1653.4 710.3 L1656.8 722.5 M1678.2 716.8 L1682.5 699.4 M1683.5 723.7 L1685.9 738.6 M1687.7 723.1 L1690.1 737 M1697.4 733.8 L1699.6 746.8 L1704.7 744.3 L1703.5 751.6 M1691 754.9 L1691.6 766.5 M1708.6 756.1 L1711 769.5 L1715.9 762.9 L1719 769.8 M1719.3 784.8 L1721.1 799.8 M1649.7 704.3 L1651 691.5 L1652.3 692.7 M1722.3 814.5 L1723.5 829.9 M1725 844.8 L1727.2 859.4 M1729.3 874.2 L1730.8 888.5 L1735.9 892.4 L1740.8 882.7 L1746.9 883.9 L1754.8 902.1 M1734.1 885.1 L1740.8 888.8 L1748.1 890 M1731.7 904.6 L1735.3 912.5 L1739 910.6 M1758.4 885.4 L1762 870.3 M1763.3 855 L1765.1 841.4 M1771.1 835.4 L1773 834.1 L1775 845.7 M1766.9 856 L1774.8 860.9 L1781.5 862.1 L1787.5 869.4 M1774.8 865.7 L1782.1 868.1 L1785.7 873 M1769.6 852.2 L1771.1 862 M1788.8 858.4 L1794.8 853.6 L1797.9 854.8 M1814.9 833.9 L1813.4 849 M1804.5 872.5 L1811.8 866.3 M1796.6 875.2 L1797.9 890.2 M1804.2 890.6 L1802.1 904.8 M1818.2 819.2 L1821.9 806.4 L1826.1 805.2 L1827.3 816.1 M1831.6 810.1 L1834.6 791.9 M1844.9 780.4 L1849.2 769.8 L1852 770.7 M1863.8 761.6 L1868 747.1 M1870.2 718.2 L1872.9 731.8 L1875.5 718.2 M1985.5 714 L1986.4 728.5 M1878.9 714.5 L1880.1 699.5 M1882.3 684.8 L1883.2 669.1 M1885.6 652.1 L1892.3 651.1 L1898.1 652.6 M1900.8 669.4 L1904.2 684.2 M1904.2 700.3 L1906.3 700.9 L1912.7 688.8 M1918.4 675.7 L1920.5 661.8 L1922.9 652.4 L1927.5 658.4 M1922 662.1 L1926.3 654.2 L1929 662.1 M1930.9 637.8 L1932.1 636.8 L1933 650.9 M1932.4 665.5 L1934.2 681.3 M1935.4 708.2 L1937.2 697.3 L1941.5 694.9 L1944.5 704.6 L1956 717.9 M1956 700 L1957.9 684.5 M1961.5 670.8 L1963.7 655.4 M1964.9 640.5 L1968.5 625.9 M1970.2 635.6 L1972.4 651.4 M1974.9 655.4 L1976.3 654.2 L1977.9 669.6 M1978.5 684.3 L1980.6 700"/>
<path class="ln" stroke="#009E73" d="M1621.2 780.4 L1624.6 771 L1629.7 785 M1630 801.4 L1636.1 809 L1640.4 789.6 M1642.2 773.8 L1644.2 757.3 L1650.7 760.7 M1650.7 736.2 L1654.9 746.8 L1660 734.6 M1755.7 735 L1758.4 766.2 M1767.3 762.5 L1773.3 772.9 L1775.8 789.6 M1782.4 797.8 L1788.3 814.1 L1793.1 804.4 M1793.1 788.9 L1796.4 759.3 M1662 688.8 L1663.2 710.6 L1664.6 727 L1667.8 727.9 L1669.5 713.1 L1672.9 692.7 L1678.2 695.5 L1683.2 667.7 M1685.3 652.1 L1687.7 634.8 L1692 629.3 L1695 631.1 M1699.3 616.8 L1700.8 647.1 M1700.8 670.6 L1702.5 671.8 L1706.3 654.2 M1714.7 663.3 L1717.5 679.7 L1721.1 638.4 L1725.1 674.2 L1728.4 627.8 L1736.3 654.2 L1743.3 651.8 L1745.8 676.4 M1746.6 691.5 L1751.5 718.5 M1797.9 744 L1801.8 718.2 L1807.3 734 L1812.8 748.6 L1818 766.5 M1818.8 783.8 L1821.6 797.1 L1826.1 785.6 M1836.7 787.4 L1839.5 762.9 L1842.3 785 L1848 788.6 L1852 802 M1841.3 792.3 L1843.7 808.1 L1850.4 806.9 M1855.3 781.4 L1858 769.8 L1862.5 783.8 M1887.2 784 L1895 776.7 L1898.6 792.5 M1919.6 794.1 L1923.9 780.1 L1928.5 767.4 M1931.4 794.5 L1934.8 783.8 L1939.6 785 L1944.5 777.7 L1951.2 771.4 M1954 750 L1961.5 758.3 L1970.6 757.1 L1969 771.9 M1972.7 739.5 L1977.9 723.1 L1982.4 714 M1808.1 730 L1815.4 739.7 L1819.4 764.8 M1838.5 763.2 L1839.7 806.1 L1844.5 788.3 L1849.4 807.7 L1854.3 798.8 M1935.2 795.6 L1942.5 786.7 L1948.2 783.4 L1953.8 773.7 M1953.8 752.7 L1962.8 760 L1968.4 762.4 L1968.7 772.4 M1865.3 828 L1866.3 802.8 L1871.9 791.9 L1873.5 797.9 M1875 816.1 L1876.5 821 L1880.4 799.8 M1901.8 818 L1906.6 800.1 L1908.1 802.8 M1908.1 827.1 L1909.9 829.3 L1916.8 810.7"/>
<path class="ticks" d="M1596.5 613.7 H1603 M1596.5 697.7 H1603 M1596.5 781.7 H1603 M1596.5 865.7 H1603 M1617.5 927.8 V934.3 M1710 927.8 V934.3 M1802.5 927.8 V934.3 M1895 927.8 V934.3 M1987.5 927.8 V934.3"/>
<text class="tk" text-anchor="end" x="1590.9" y="620.6">40</text>
<text class="tk" text-anchor="end" x="1590.9" y="704.6">20</text>
<text class="tk" text-anchor="end" x="1590.9" y="788.6">0</text>
<text class="tk" text-anchor="end" x="1590.9" y="872.6">−20</text>
<text class="tk" text-anchor="middle" x="1617.5" y="953.9">0</text>
<text class="tk" text-anchor="middle" x="1710" y="953.9">25</text>
<text class="tk" text-anchor="middle" x="1802.5" y="953.9">50</text>
<text class="tk" text-anchor="middle" x="1895" y="953.9">75</text>
<text class="tk" text-anchor="middle" x="1987.5" y="953.9">100</text>
<text class="ax" text-anchor="middle" x="1804.3" y="985.4">t</text>
<text class="ax" text-anchor="middle" transform="translate(1543.9 765.5) rotate(-90)">value</text>
<text class="lab" x="1521.75" y="540.4">H</text>
<text class="ttl" x="1601.25" y="541">Complex network</text>
<text class="sub"><tspan class="g" x="1602" y="579.1">θ</tspan><tspan class="s" x="1616.25" y="583.4">XY </tspan><tspan class="e" x="1647.05" y="580.5">= </tspan><tspan x="1667.75" y="579.1">1</tspan><tspan x="1681.15" y="579.1">, </tspan><tspan class="g" x="1694.95" y="579.1">θ</tspan><tspan class="s" x="1709.2" y="583.4">XZ </tspan><tspan class="e" x="1738.75" y="580.5">= </tspan><tspan class="e" x="1758.4" y="580.5">−</tspan><tspan x="1778.1" y="579.1">1</tspan><tspan x="1791.5" y="579.1">, </tspan><tspan class="g" x="1805.3" y="579.1">θ</tspan><tspan class="s" x="1819.55" y="583.4">YZ </tspan><tspan class="e" x="1849.1" y="580.5">= </tspan><tspan x="1869.8" y="579.1">1</tspan><tspan x="1883.2" y="579.1">, </tspan><tspan class="g" x="1897" y="579.1">θ</tspan><tspan class="s" x="1911.25" y="583.4">ZX </tspan><tspan class="e" x="1940.8" y="580.5">= </tspan><tspan class="e" x="1960.45" y="580.5">−</tspan><tspan x="1980.15" y="579.1">1</tspan></text>
</g>
</svg></body></html>
